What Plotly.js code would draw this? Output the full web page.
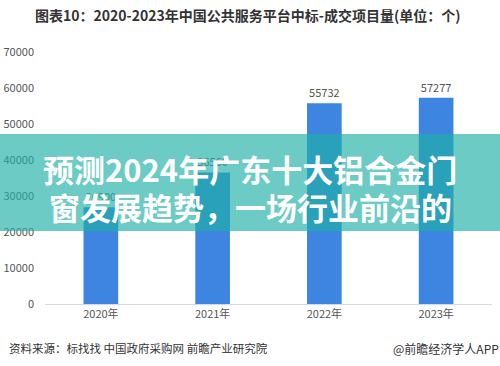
<!DOCTYPE html>
<html><head><meta charset="utf-8">
<script src="https://cdn.plot.ly/plotly-3.0.1.min.js"></script>
<style>html,body{margin:0;padding:0;background:#fff}#c{width:500px;height:366px}</style>
</head><body><div id="c"></div>
<script>
const years = ["2020年","2021年","2022年","2023年"];
const projects = [26900, 36560, 55732, 57277];
const yTicks = [0,10000,20000,30000,40000,50000,60000,70000];

const F = '"Noto Sans CJK SC", "Microsoft YaHei", sans-serif';
const trace = {
  type:'bar', x: years, y: projects,
  marker:{color:'#3d85e0'},
  text: projects.map(String), textposition:'outside', cliponaxis:false,
  textfont:{family:F, size:11, color:'#555'},
  hoverinfo:'none'
};
const layout = {
  width:500, height:366,
  margin:{l:45, r:8, t:52, b:62},
  paper_bgcolor:'#fff', plot_bgcolor:'#fff',
  showlegend:false, bargap:0.69,
  xaxis:{showgrid:false, showline:true, linecolor:'#d9d9d9', linewidth:1, ticks:'',
    tickfont:{family:F, size:11, color:'#555'}, fixedrange:true},
  yaxis:{range:[0,70000], tickvals:yTicks, ticktext:yTicks.map(String), showgrid:false, zeroline:false,
    showline:false, ticks:'', ticklabelstandoff:10,
    tickfont:{family:F, size:11, color:'#555'}, fixedrange:true},
  shapes:[{type:'rect', xref:'paper', yref:'paper', layer:'above',
    x0:-0.2, x1:1.1, y0:(304-231)/252, y1:(304-134)/252,
    fillcolor:'rgba(32,176,165,0.66)', line:{width:0}}],
  annotations:[
    {xref:'paper', yref:'paper', x:(248-45)/447, y:(304-15)/252, xanchor:'center', yanchor:'middle', showarrow:false,
     text:'<b>图表10：2020-2023年中国公共服务平台中标-成交项目量(单位：个)</b>', font:{family:F, size:14, color:'#333'}},
    {xref:'paper', yref:'paper', x:(250-45)/447, y:(304-168)/252, xanchor:'center', yanchor:'middle', showarrow:false,
     text:'<b>预测2024年广东十大铝合金门</b>', font:{family:F, size:31, color:'#fff'}},
    {xref:'paper', yref:'paper', x:(250-45)/447, y:(304-206)/252, xanchor:'center', yanchor:'middle', showarrow:false,
     text:'<b>窗发展趋势，一场行业前沿的</b>', font:{family:F, size:31, color:'#fff'}},
    {xref:'paper', yref:'paper', x:(7-45)/447, y:(304-348)/252, xanchor:'left', yanchor:'middle', showarrow:false,
     text:'资料来源：标找找 中国政府采购网 前瞻产业研究院', font:{family:F, size:11.5, color:'#333'}},
    {xref:'paper', yref:'paper', x:(501-45)/447, y:(304-348)/252, xanchor:'right', yanchor:'middle', showarrow:false,
     text:'@前瞻经济学人APP', font:{family:F, size:12, color:'#333'}}
  ]
};
Plotly.newPlot('c',[trace],layout,{displayModeBar:false, staticPlot:true});
</script></body></html>
